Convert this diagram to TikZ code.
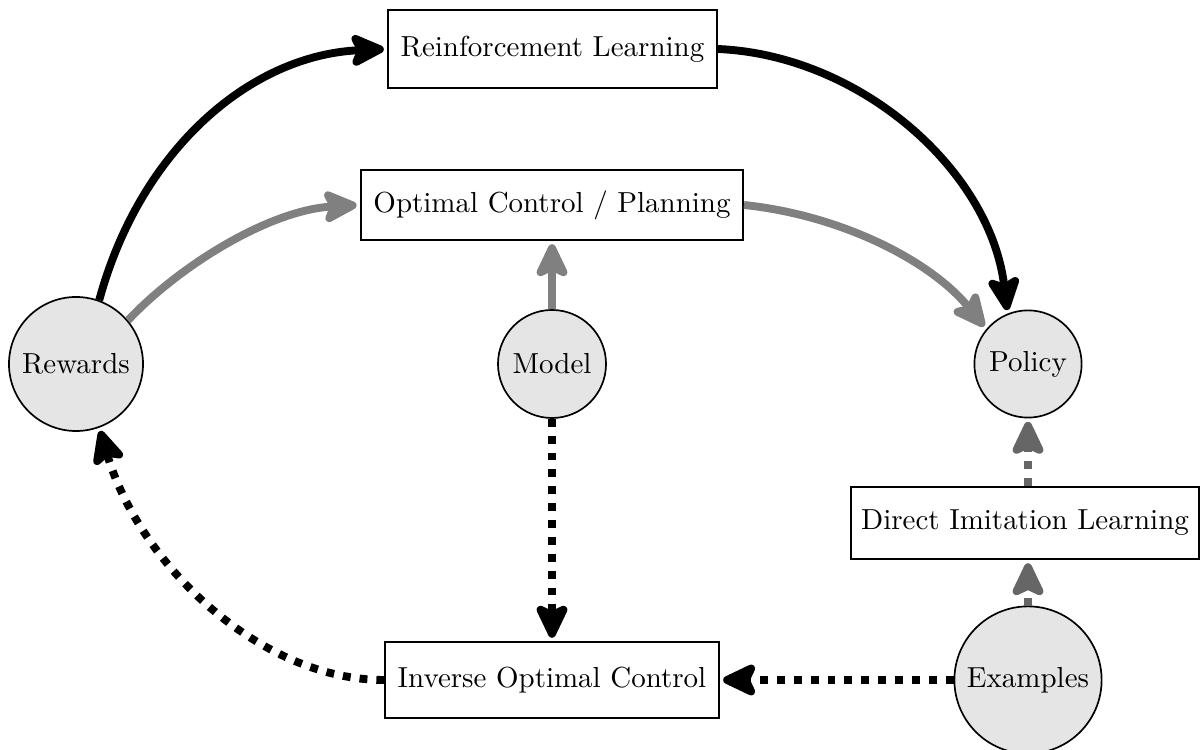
\documentclass[tikz,border=0pt]{standalone}
\usetikzlibrary{arrows.meta}

\tikzset{
  box/.style={draw, line width=0.6pt, fill=white, inner xsep=4.5pt, minimum height=#1},
  box/.default=0.95cm,
  disc/.style={draw, circle, line width=0.6pt, fill=gray!20, inner sep=1pt, minimum size=#1},
  link/.style={line width=2.8pt, shorten >=1.2pt,
    -{Stealth[round,length=14.5pt,width=13.5pt,inset=3pt]}},
  solidlink/.style={link, black},
  greylink/.style={link, black!50},
  dotlink/.style={link, black, dash pattern=on 2.8pt off 3.2pt},
  darkdotlink/.style={link, black!60, dash pattern=on 2.8pt off 3.2pt},
}

\begin{document}
\begin{tikzpicture}[x=0.0125cm, y=-0.0125cm, font=\fontsize{10.3}{12.4}\selectfont]
  \useasboundingbox (0,0) rectangle (1200,750);

  % methods
  \node[box=0.975cm] (rl)  at (552.5,49)  {Reinforcement Learning};
  \node[box=0.875cm] (ocp) at (552,205)   {Optimal Control / Planning};
  \node[box=0.95cm]  (ioc) at (552,680)   {Inverse Optimal Control};
  \node[box=0.9cm, inner xsep=3.5pt] (dil) at (1025,523) {Direct Imitation Learning};

  % ingredients and outcome
  \node[disc=1.675cm] (rewards)  at (76,364)   {Rewards};
  \node[disc=1.35cm]  (model)    at (552,364)  {Model};
  \node[disc=1.34cm]  (policy)   at (1028,364) {Policy};
  \node[disc=1.84cm]  (examples) at (1028,680) {Examples};

  % reinforcement learning route
  \draw[solidlink] (rewards.70) .. controls (140,150) and (250,55) .. (rl.west);
  \draw[solidlink] (rl.east) .. controls (860,55) and (990,170) .. (policy.112);

  % planning route
  \draw[greylink] (rewards.40) .. controls (180,265) and (270,210) .. (ocp.west);
  \draw[greylink] (ocp.east) .. controls (840,215) and (930,260) .. (policy.140);
  \draw[greylink] (model) -- (ocp);

  % inverse optimal control route
  \draw[dotlink] (model) -- (ioc);
  \draw[dotlink] (examples) -- (ioc);
  \draw[dotlink] (ioc.west) .. controls (260,680) and (140,565) .. (rewards.-70);

  % direct imitation route
  \draw[darkdotlink] (examples.north -| policy) -- (dil.south -| policy);
  \draw[darkdotlink] (dil.north -| policy) -- (policy);
\end{tikzpicture}
\end{document}
